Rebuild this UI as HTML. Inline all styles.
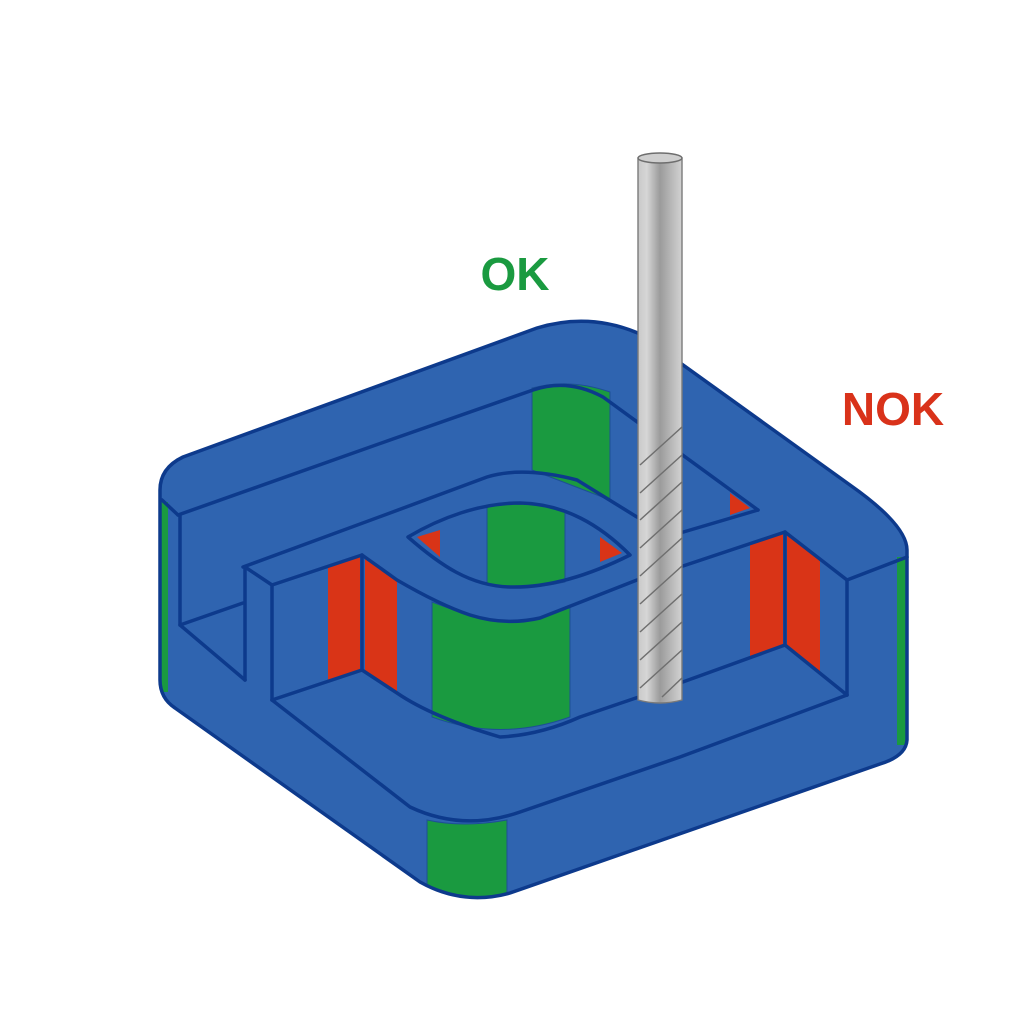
<!DOCTYPE html>
<html><head><meta charset="utf-8"><style>
html,body{margin:0;padding:0;background:#fff;}
svg{display:block;}
text{font-family:"Liberation Sans",sans-serif;font-weight:bold;}
</style></head><body>
<svg width="1024" height="1024" viewBox="0 0 1024 1024" xmlns="http://www.w3.org/2000/svg">
<defs>
<linearGradient id="tg" x1="0" x2="1" y1="0" y2="0">
<stop offset="0" stop-color="#c9c9c9"/><stop offset="0.2" stop-color="#d6d6d6"/><stop offset="0.5" stop-color="#9b9b9b"/><stop offset="0.85" stop-color="#c2c2c2"/><stop offset="1" stop-color="#d2d2d2"/>
</linearGradient>
</defs>
<path d="M160,490 Q160,468 183,457 L537,328 Q590,312 640,334 L850,485 Q907,525 907,550 L907,740 Q906,756 880,764 L510,893 Q463,906 420,882 L175,708 Q160,698 160,680 Z" fill="#2f64b0"/>

<path d="M532,388 Q570,378 610,392 L610,500 L532,470 Z" fill="#1a9a40" stroke="#1d4f96" stroke-width="1"/>
<path d="M432,602 L470,616 Q500,625 540,618 L570,607 L570,717 Q500,742 432,717 Z" fill="#1a9a40" stroke="#1d4f96" stroke-width="1"/>
<path d="M487,505 Q520,500 565,510 L565,582 Q520,592 487,584 Z" fill="#1a9a40" stroke="#1d4f96" stroke-width="1"/>
<path d="M427,820 Q463,828 507,820 L507,893 Q463,905 427,886 Z" fill="#1a9a40" stroke="#1d4f96" stroke-width="1"/>
<rect x="161" y="502" width="7" height="190" fill="#1a9a40"/>
<rect x="897" y="557" width="9" height="188" fill="#1a9a40"/>

<polygon points="328,566 360,556 360,671 328,681" fill="#d93417"/>
<polygon points="365,559 397,580 397,693 365,672" fill="#d93417"/>
<polygon points="750,544 783,533 783,646 750,658" fill="#d93417"/>
<polygon points="787,534 820,559 820,673 787,647" fill="#d93417"/>
<polygon points="730,493 730,515 750,508" fill="#d93417"/>
<polygon points="417,537 440,530 440,557" fill="#d93417"/>
<polygon points="600,537 600,562 622,553" fill="#d93417"/>

<g fill="none" stroke="#0d3a8c" stroke-width="3.5" stroke-linejoin="round" stroke-linecap="round">
<path d="M162,500 L178,515"/>
<path d="M178,515 L390,440 L533,390 Q568,378 603,397 L758,510"/>
<path d="M180,515 L180,625 L243,603"/>
<path d="M180,625 L245,680"/>
<path d="M243,567 L390,513 L487,477 Q523,466 577,480 L637,517 L680,533 L758,510"/>
<path d="M245,567 L245,680"/>
<path d="M245,567 L272,585 L272,700"/>
<path d="M272,585 L362,555 L362,670"/>
<path d="M272,700 L362,670 L397,693 Q432,717 500,737 Q540,735 580,717 L680,683 L785,645 L847,695"/>
<path d="M362,555 L397,580 Q440,605 470,615 Q505,626 540,618 L637,580 L680,567 L785,532 L847,580 L907,557"/>
<path d="M785,532 L785,645"/>
<path d="M847,580 L847,695"/>
<path d="M272,700 L410,807 Q463,832 520,812 L680,757 L847,695"/>
<path d="M408,537 C440,518 480,503 520,503 C565,504 600,525 630,555 C590,575 550,588 510,587 C470,586 440,565 408,537 Z"/>
<path d="M160,490 Q160,468 183,457 L537,328 Q590,312 640,334 L850,485 Q907,525 907,550 L907,740 Q906,756 880,764 L510,893 Q463,906 420,882 L175,708 Q160,698 160,680 Z"/>
</g>

<g>
<path d="M638,158 L638,700 Q660,706 682,700 L682,158 Z" fill="url(#tg)" stroke="#7a7a7a" stroke-width="1.4"/>
<ellipse cx="660" cy="158" rx="22" ry="5" fill="#cfcfcf" stroke="#6e6e6e" stroke-width="1.5"/>
<g stroke="#6f6f6f" stroke-width="1.5">
<line x1="682" y1="427" x2="640" y2="465"/>
<line x1="682" y1="455" x2="640" y2="493"/>
<line x1="682" y1="482" x2="640" y2="520"/>
<line x1="682" y1="510" x2="640" y2="548"/>
<line x1="682" y1="538" x2="640" y2="576"/>
<line x1="682" y1="566" x2="640" y2="604"/>
<line x1="682" y1="594" x2="640" y2="632"/>
<line x1="682" y1="622" x2="640" y2="660"/>
<line x1="682" y1="650" x2="640" y2="688"/>
<line x1="682" y1="678" x2="662" y2="697"/>
</g>
</g>

<text x="515" y="290" font-size="46" fill="#1a9a40" text-anchor="middle">OK</text>
<text x="893" y="425" font-size="46" fill="#d9321a" text-anchor="middle">NOK</text>
</svg>
</body></html>
